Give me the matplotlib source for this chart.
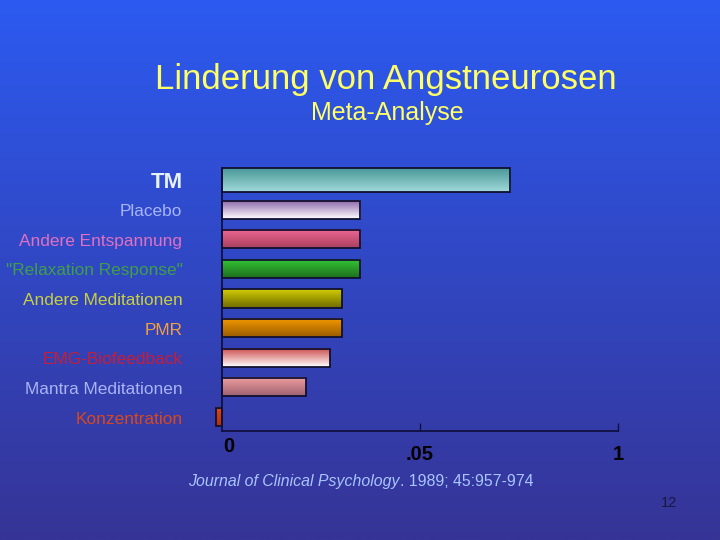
import numpy as np
import matplotlib
matplotlib.use('Agg')
import matplotlib.pyplot as plt

## Daten ##
kategorien = ["TM", "Placebo", "Andere Entspannung", '"Relaxation Response"',
              "Andere Meditationen", "PMR", "EMG-Biofeedback",
              "Mantra Meditationen", "Konzentration"]
werte = [1.455, 0.697, 0.697, 0.697, 0.606, 0.606, 0.545, 0.424, -0.03]
tick_pos = [0, 1, 2]
tick_labels = ["0", ".05", "1"]

## Farben: Beschriftung, Balken oben, Balken unten ##
label_farben = ["#e8f2ff", "#a8b4ff", "#e070c0", "#3f9f48", "#c8d040",
                "#f0a040", "#c41e3a", "#a8b4f4", "#d8481c"]
balken_oben = ["#4a9898", "#8a64a8", "#f06894", "#34c634", "#d2cc00",
               "#f49800", "#cc4c4c", "#f0a0a0", "#e04810"]
balken_unten = ["#a2dada", "#ffffff", "#a8405e", "#1e6e1e", "#6e6a00",
                "#9a5c00", "#ffffff", "#9e6070", "#b03008"]

plt.rcParams['font.family'] = ['Liberation Sans', 'DejaVu Sans']

fig = plt.figure(figsize=(7.2, 5.4), dpi=100)

## Hintergrund mit Farbverlauf ##
bg = fig.add_axes([0, 0, 1, 1], zorder=0)
t = np.linspace(0, 1, 200)[:, None, None]
oben = np.array([44, 90, 240]) / 255
unten = np.array([54, 52, 150]) / 255
bg.imshow(oben * (1 - t) + unten * t, aspect='auto', extent=[0, 1, 0, 1])
bg.axis('off')

ax = fig.add_axes([222 / 720, 1 - 431 / 540, 396 / 720, 263 / 540], zorder=1)
ax.patch.set_alpha(0)

n = len(kategorien)
ypos = np.arange(n)
hoehen = [0.81] + [0.61] * (n - 1)

## Balken mit Farbverlauf (Konzentration ragt links raus, daher ohne Clipping) ##
for i in range(n):
    x0, x1 = sorted([0, werte[i]])
    yc, h = ypos[i], hoehen[i]
    g = np.linspace(0, 1, 60)[:, None, None]
    c0 = np.array(matplotlib.colors.to_rgb(balken_oben[i]))
    c1 = np.array(matplotlib.colors.to_rgb(balken_unten[i]))
    im = ax.imshow(c0 * (1 - g) + c1 * g, aspect='auto', origin='upper',
                   extent=[x0, x1, yc + h / 2, yc - h / 2], zorder=2)
    im.set_clip_on(False)
ax.barh(ypos, werte, height=hoehen, fill=False, edgecolor='#101030',
        linewidth=1.3, zorder=3, clip_on=False)

ax.set_xlim(0, 2)
ax.set_ylim(n - 1 + 0.473, -0.405)

for s in ['top', 'right']:
    ax.spines[s].set_visible(False)
for s in ['left', 'bottom']:
    ax.spines[s].set_color('#101040')
    ax.spines[s].set_linewidth(1.3)
    ax.spines[s].set_zorder(4)
ax.set_yticks([])
ax.set_xticks(tick_pos[1:], ['', ''])
ax.tick_params(axis='x', direction='in', length=6, width=1, color='#101040')

## Achsenbeschriftungen (0 sitzt etwas höher) ##
for pos, lab in zip(tick_pos, tick_labels):
    dx, dy = (5, -11.5) if pos == 0 else (0, -17)
    ax.annotate(lab, xy=(pos, 0), xycoords=('data', 'axes fraction'),
                xytext=(dx, dy), textcoords='offset points', ha='center',
                va='center', fontsize=14.5, fontweight='bold', color='black')

## Kategorien ##
for i in range(n):
    fs, fw = (16, 'bold') if i == 0 else (12.4, 'normal')
    ax.annotate(kategorien[i], xy=(0, ypos[i]), xytext=(-28.5, -1.5),
                textcoords='offset points', ha='right', va='center',
                fontsize=fs, fontweight=fw, color=label_farben[i],
                annotation_clip=False)

## Titel ##
fig.text(386 / 720, 1 - 80 / 540, "Linderung von Angstneurosen", ha='center',
         va='center', fontsize=25, color='#ffff66')
fig.text(387 / 720, 1 - 113 / 540, "Meta-Analyse", ha='center', va='center',
         fontsize=18, color='#ffff66')

## Quelle ##
t1 = fig.text(188 / 720, 1 - 486 / 540, "Journal of Clinical Psychology",
              ha='left', va='baseline', fontsize=11.4, style='italic',
              color='#a8c4ff')
bg.annotate(". 1989; 45:957-974", xy=(1, 0.5), xycoords=t1, ha='left',
            va='center', fontsize=11.4, color='#a8c4ff')

fig.text(669 / 720, 1 - 503 / 540, "12", ha='center', va='center',
         fontsize=10.5, color='#181840')

fig.savefig('out.png', dpi=100)
